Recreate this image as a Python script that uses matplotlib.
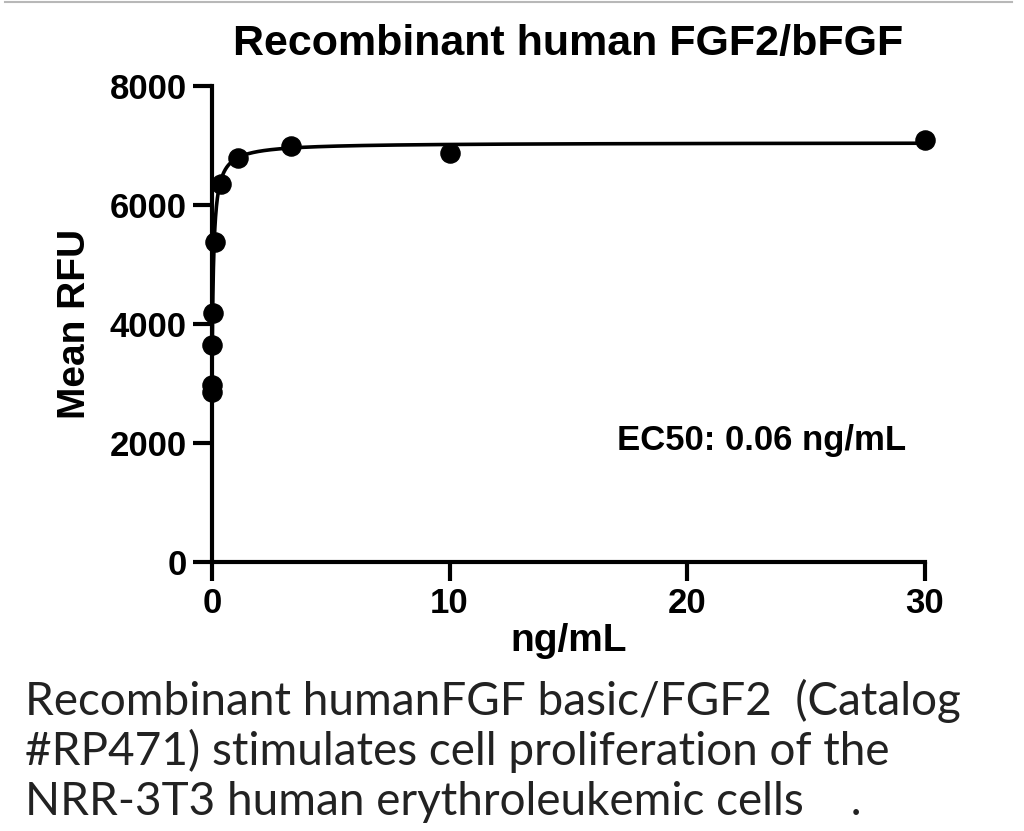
import numpy as np
import matplotlib
matplotlib.use("Agg")
import matplotlib.pyplot as plt

# data
conc = [30, 10, 3.33, 1.11, 0.37, 0.123, 0.041, 0.0137, 0.0046, 0.0015]
rfu = [7090, 6875, 6990, 6795, 6355, 5380, 4185, 3650, 2975, 2850]

# 4PL fit parameters
bottom = 2800
top = 7050
ec50 = 0.06
hill = 0.95

title = "Recombinant human FGF2/bFGF"
caption = ["Recombinant humanFGF basic/FGF2  (Catalog",
           "#RP471) stimulates cell proliferation of the",
           "NRR-3T3 human erythroleukemic cells    ."]

plt.rcParams['font.family'] = ['Liberation Sans', 'DejaVu Sans']

fig = plt.figure(figsize=(10.24, 8.31), dpi=100)
ax = fig.add_axes([0.207, 0.3237, 0.696, 0.5728])

xs = np.linspace(0.0005, 30, 4000)
fit = bottom + (top - bottom) / (1 + (ec50 / xs) ** hill)
ax.plot(xs, fit, color='black', lw=2.6, zorder=2)
ax.scatter(conc, rfu, s=190, color='black', zorder=3, clip_on=False)

ax.set_xlim(0, 30)
ax.set_ylim(0, 8000)
ax.set_xticks([0, 10, 20, 30])
ax.set_yticks([0, 2000, 4000, 6000, 8000])
for s in ['top', 'right']:
    ax.spines[s].set_visible(False)
for s in ['left', 'bottom']:
    ax.spines[s].set_linewidth(3)
ax.tick_params(width=3, length=14, labelsize=25, pad=4)
for lab in ax.get_xticklabels() + ax.get_yticklabels():
    lab.set_fontweight('bold')

ax.set_xlabel("ng/mL", fontsize=28, fontweight='bold', labelpad=2)
ax.set_ylabel("Mean RFU", fontsize=28, fontweight='bold', labelpad=12)
ax.set_title(title, fontsize=31, fontweight='bold', pad=22)
ax.text(0.568, 0.255, "EC50: 0.06 ng/mL", transform=ax.transAxes,
        fontsize=25, fontweight='bold', ha='left', va='center')

fig.add_artist(plt.Line2D([0.005, 0.988], [0.998, 0.998], color='#b8b8b8', lw=1.5))
for i, line in enumerate(caption):
    fig.text(0.024, 0.157 - i * 0.061, line, fontsize=33, family=['Lato', 'DejaVu Sans'],
             color='#222222', ha='left', va='center')

fig.savefig("out.png", dpi=100)
